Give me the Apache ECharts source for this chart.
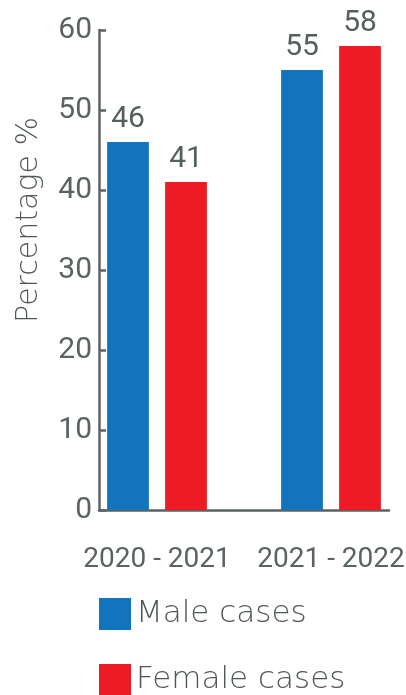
<!DOCTYPE html>
<html>
<head>
<meta charset="utf-8">
<script src="https://cdn.jsdelivr.net/npm/echarts@6/dist/echarts.min.js"></script>
<style>html,body{margin:0;padding:0;background:#fff}#c{width:406px;height:695px}</style>
</head>
<body>
<div id="c"></div>
<script>
var categories = ['2020 - 2021', '2021 - 2022'];
var seriesNames = ['Male cases', 'Female cases'];
var maleValues = [46, 55];
var femaleValues = [41, 58];
var yTicks = [0, 10, 20, 30, 40, 50, 60];

// five equal slots: male, female, gap, male, female
var slots = ['', categories[0], '', '', categories[1]];
var maleData = [maleValues[0], '-', '-', maleValues[1], '-'];
var femaleData = ['-', femaleValues[0], '-', '-', femaleValues[1]];

var grey = '#5b6361';

var chart = echarts.init(document.getElementById('c'));
chart.setOption({
  animation: false,
  color: ['#1174bd', '#ed1c24'],
  grid: { left: 99, right: 17, top: 30, bottom: 185, containLabel: false, outerBoundsMode: 'none' },
  legend: {
    orient: 'vertical', left: 94, top: 593, height: 102,
    itemWidth: 32, itemHeight: 32, itemGap: 34, itemTextGap: 20,
    icon: 'rect',
    data: seriesNames,
    textStyle: { fontFamily: 'DejaVu Sans', fontSize: 31, fontWeight: 300, lineHeight: 32, color: '#4f5756' }
  },
  xAxis: {
    type: 'category',
    data: slots,
    boundaryGap: true,
    axisLine: { lineStyle: { color: grey, width: 2.5 } },
    axisTick: { inside: true, length: 12, lineStyle: { color: grey, width: 2.5 }, interval: 0 },
    axisLabel: {
      interval: 0, margin: 36, color: grey, fontFamily: 'Roboto', fontSize: 28,
      padding: [0, 58, 0, 0]
    }
  },
  yAxis: {
    type: 'value', min: yTicks[0], max: yTicks[yTicks.length - 1], interval: 10,
    name: 'Percentage %', nameLocation: 'middle', nameGap: 55,
    nameTextStyle: { fontFamily: 'DejaVu Sans', fontSize: 30, fontWeight: 300, color: '#4f5756', padding: [0, 0, 0, 100] },
    splitLine: { show: false },
    axisLine: { show: true, lineStyle: { color: grey, width: 2.5 } },
    axisTick: { show: true, inside: true, length: 7, lineStyle: { color: grey, width: 2.5 } },
    axisLabel: { margin: 7, color: grey, fontFamily: 'Roboto', fontSize: 30, padding: [0, 0, 12, 0] }
  },
  series: [
    {
      name: seriesNames[0], type: 'bar', data: maleData, barWidth: '72%', barGap: '-100%',
      label: { show: true, position: 'top', distance: 8, color: '#555f5e', fontFamily: 'Roboto', fontSize: 30 }
    },
    {
      name: seriesNames[1], type: 'bar', data: femaleData, barWidth: '72%', barGap: '-100%',
      label: { show: true, position: 'top', distance: 8, color: '#555f5e', fontFamily: 'Roboto', fontSize: 30 }
    }
  ]
});
</script>
</body>
</html>
